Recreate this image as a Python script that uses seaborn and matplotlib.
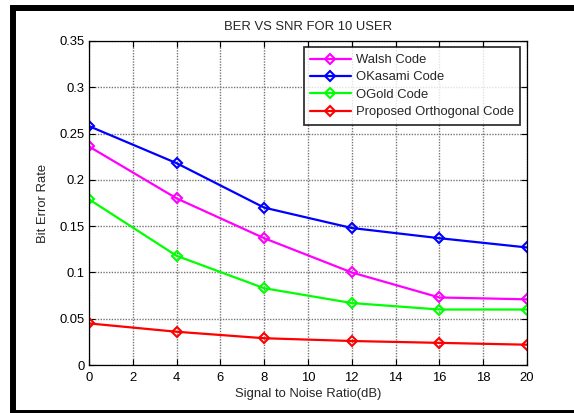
import matplotlib
matplotlib.use("Agg")
import matplotlib.pyplot as plt
import matplotlib.patches as mpatches
import seaborn as sns
import pandas as pd

snr_db = [0, 4, 8, 12, 16, 20]
walsh = [0.236, 0.180, 0.137, 0.100, 0.073, 0.071]
okasami = [0.258, 0.218, 0.170, 0.148, 0.137, 0.127]
ogold = [0.179, 0.118, 0.083, 0.067, 0.060, 0.060]
proposed = [0.045, 0.036, 0.029, 0.026, 0.024, 0.022]

series_names = ["Walsh Code", "OKasami Code", "OGold Code", "Proposed Orthogonal Code"]
series_values = [walsh, okasami, ogold, proposed]
series_colors = ["#ff00ff", "#0000ff", "#00ff00", "#ff0000"]

x_ticks = list(range(0, 21, 2))
y_ticks = [0, 0.05, 0.1, 0.15, 0.2, 0.25, 0.3, 0.35]
y_tick_labels = ["0", "0.05", "0.1", "0.15", "0.2", "0.25", "0.3", "0.35"]

FS = 9.4

sns.set_theme(style="white")
plt.rcParams["font.family"] = ["Liberation Sans", "DejaVu Sans"]

fig = plt.figure(figsize=(5.74, 4.13), dpi=100)
ax = fig.add_axes([0.155, 0.116, 0.763, 0.785])

for name, vals, col in zip(series_names, series_values, series_colors):
    df = pd.DataFrame({"SNR": snr_db, "BER": vals})
    sns.lineplot(data=df, x="SNR", y="BER", ax=ax, color=col, label=name,
                 marker="D", markersize=5.2, markerfacecolor="none",
                 markeredgecolor=col, markeredgewidth=1.5, linewidth=1.6)

ax.set_xlim(0, 20)
ax.set_ylim(0, 0.35)
ax.set_xticks(x_ticks)
ax.set_yticks(y_ticks)
ax.set_yticklabels(y_tick_labels)
ax.tick_params(axis="both", direction="in", length=4, width=0.8, labelsize=FS,
               colors="black", top=True, right=True, bottom=True, left=True, pad=3)
ax.tick_params(axis="x", pad=5)
ax.grid(True, color="#777777", linestyle=(0, (1, 1)), linewidth=1.0)
for s in ax.spines.values():
    s.set_color("black")
    s.set_linewidth(0.9)

ax.set_title("BER VS SNR FOR 10 USER", fontsize=FS, pad=8)
ax.set_xlabel("Signal to Noise Ratio(dB)", fontsize=FS, labelpad=3)
ax.set_ylabel("Bit Error Rate", fontsize=FS, labelpad=8)

leg = ax.legend(loc="upper right", fontsize=FS, frameon=True, fancybox=False,
                handlelength=3.1, borderaxespad=0.5, labelspacing=0.4,
                borderpad=0.5, handletextpad=0.4)
leg.get_frame().set_edgecolor("black")
leg.get_frame().set_linewidth(1.3)

# outer frame around the figure
frame = mpatches.Rectangle((13 / 574, 1 - 412.5 / 413), (577 - 13) / 574,
                           (412.5 - 7.5) / 413, transform=fig.transFigure,
                           fill=False, edgecolor="black", linewidth=4.3,
                           clip_on=False)
fig.patches.append(frame)

fig.savefig("out.png", dpi=100)
